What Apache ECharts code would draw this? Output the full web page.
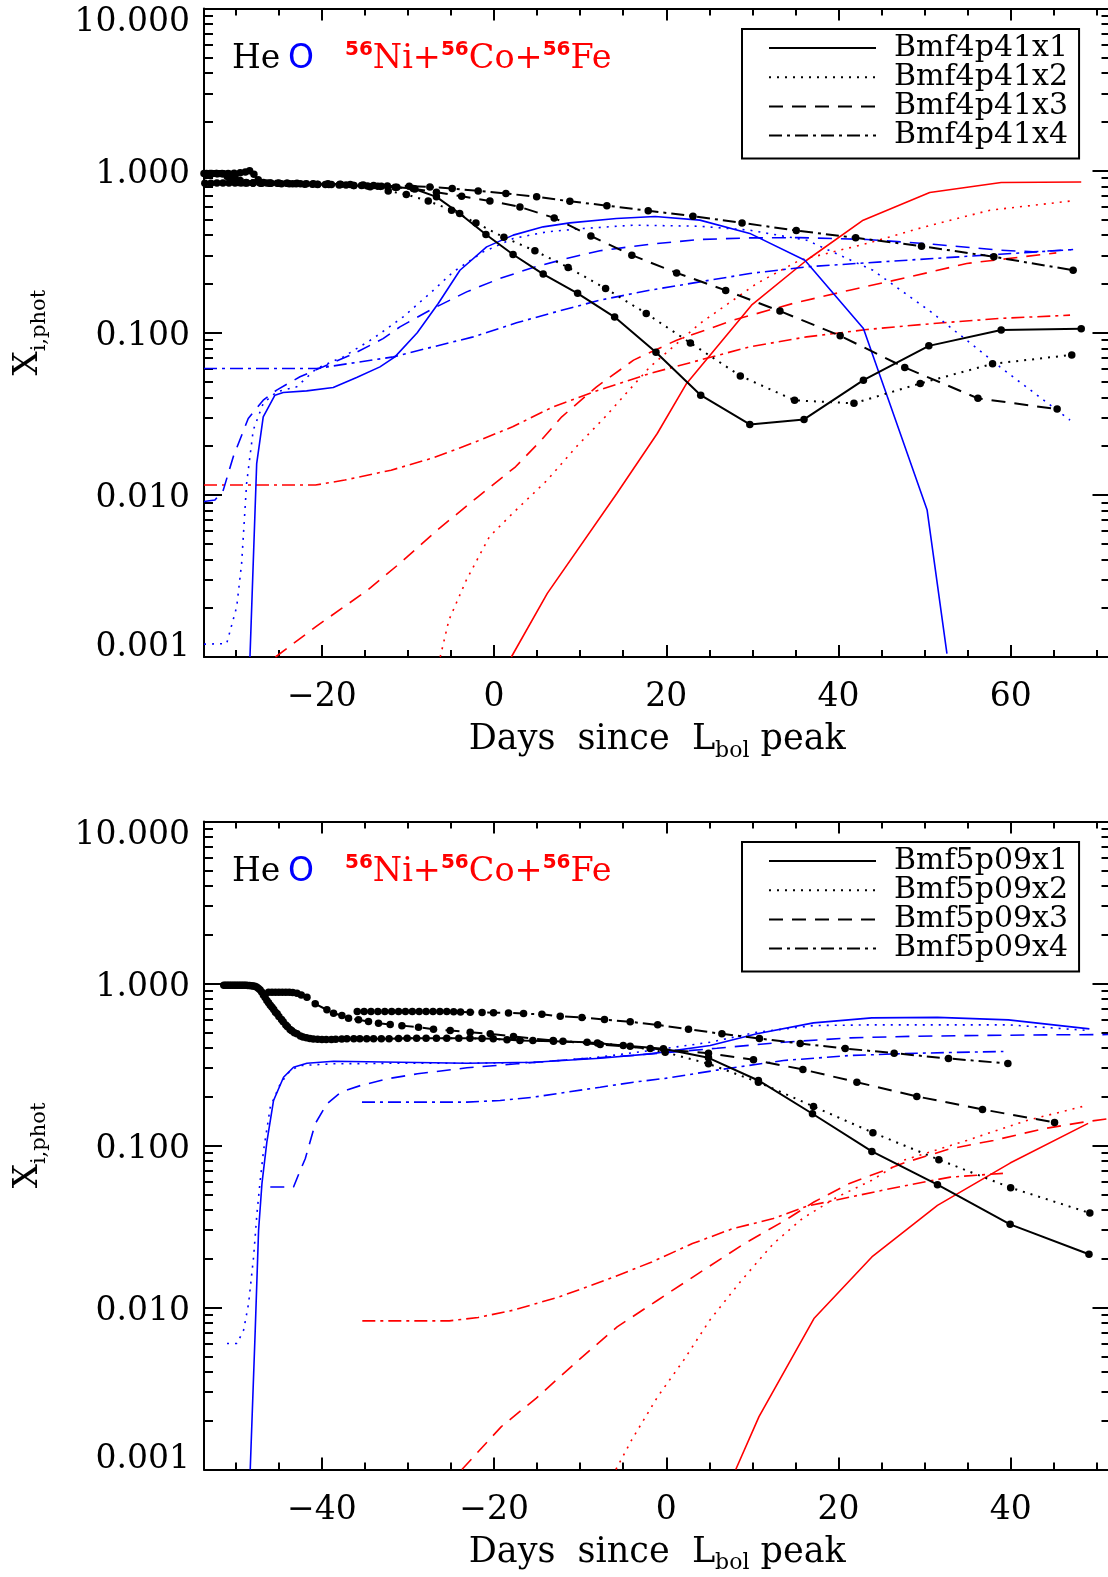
<!DOCTYPE html>
<html><head><meta charset="utf-8">
<script src="https://cdn.jsdelivr.net/npm/echarts@6/dist/echarts.min.js"></script>
<style>html,body{margin:0;padding:0;background:#fff}#c{width:1108px;height:1577px}</style>
</head><body><div id="c"></div>
<script>
// ---------------- DATA (day since Lbol peak, mass fraction) ----------------
const modelsTop = ['Bmf4p41x1','Bmf4p41x2','Bmf4p41x3','Bmf4p41x4'];
const modelsBottom = ['Bmf5p09x1','Bmf5p09x2','Bmf5p09x3','Bmf5p09x4'];
const xTicksTopMajor = [-20,0,20,40,60];
const xTicksTopMinor = [-30,-25,-15,-10,-5,5,10,15,25,30,35,45,50,55,65,70];
const xTicksBotMajor = [-40,-20,0,20,40];
const xTicksBotMinor = [-50,-45,-35,-30,-25,-15,-10,-5,5,10,15,25,30,35,45,50];
const xRangeTop = [-33.7, 71.6];
const xRangeBot = [-53.7, 51.6];

// Top panel: He (black)
const heT1 = [[-33.7,0.96],[-33.0,0.96],[-32.3,0.96],[-31.6,0.96],[-30.9,0.96],[-30.2,0.965],[-29.5,0.97],[-28.9,0.98],[-28.4,1.0],[-27.9,0.95],[-27.4,0.88],[-26.8,0.845],[-26.0,0.84],[-25.0,0.835],[-24.0,0.835],[-23.0,0.83],[-21.8,0.83],[-20.5,0.825],[-19.2,0.82],[-17.8,0.82],[-16.3,0.81],[-14.7,0.805],[-13.1,0.80],[-11.3,0.79],[-9.4,0.776],[-6.7,0.689],[-4.0,0.544],[-0.95,0.404],[2.2,0.304],[5.7,0.23],[9.7,0.175],[14.0,0.125],[18.8,0.0758],[24.0,0.0412],[29.7,0.0272],[36.0,0.0292],[42.9,0.051],[50.5,0.083],[58.9,0.104],[68.2,0.106]];
const heT2 = [[-33.5,0.955],[-32.8,0.955],[-32.1,0.955],[-31.4,0.955],[-30.7,0.95],[-30.1,0.92],[-29.5,0.87],[-28.8,0.845],[-28.0,0.84],[-27.1,0.84],[-26.1,0.835],[-25.0,0.835],[-23.8,0.83],[-22.5,0.83],[-21.1,0.825],[-19.6,0.82],[-18.0,0.815],[-16.3,0.81],[-14.4,0.795],[-12.3,0.75],[-10.2,0.712],[-7.65,0.65],[-4.94,0.57],[-2.11,0.476],[1.14,0.388],[4.74,0.32],[8.6,0.253],[12.95,0.1875],[17.67,0.1315],[22.8,0.0866],[28.6,0.0542],[34.9,0.0383],[41.8,0.0367],[49.5,0.0487],[57.9,0.0643],[67.1,0.073]];
const heT3 = [[-33.4,0.96],[-32.8,0.96],[-32.2,0.96],[-31.6,0.955],[-31.0,0.92],[-30.4,0.87],[-29.7,0.845],[-28.9,0.84],[-28.0,0.84],[-27.0,0.835],[-25.9,0.835],[-24.7,0.83],[-23.4,0.83],[-22.0,0.825],[-20.5,0.82],[-18.9,0.82],[-17.2,0.815],[-15.4,0.81],[-13.5,0.80],[-11.5,0.79],[-9.2,0.77],[-6.7,0.736],[-3.77,0.695],[-0.49,0.65],[3.0,0.597],[6.98,0.511],[11.24,0.395],[16.0,0.301],[21.2,0.234],[26.9,0.1825],[33.2,0.136],[40.2,0.0958],[47.7,0.0611],[56.2,0.0394],[65.4,0.0338]];
const heT4 = [[-33.6,0.835],[-32.9,0.835],[-32.2,0.84],[-31.5,0.84],[-30.8,0.84],[-30.1,0.84],[-29.4,0.84],[-28.7,0.84],[-28.0,0.84],[-27.2,0.84],[-26.4,0.84],[-25.2,0.835],[-24.1,0.835],[-22.9,0.835],[-21.0,0.83],[-19.3,0.83],[-17.9,0.825],[-16.7,0.82],[-15.2,0.815],[-14.0,0.81],[-12.4,0.805],[-9.86,0.802],[-7.46,0.793],[-4.87,0.776],[-1.85,0.75],[1.37,0.723],[4.94,0.689],[8.8,0.647],[13.1,0.608],[17.9,0.566],[23.1,0.524],[28.8,0.476],[35.1,0.427],[42.0,0.385],[49.65,0.342],[58.05,0.294],[67.26,0.243]];
// Top panel: O (blue)
const oT1 = [[-28.36,0.001],[-27.58,0.0156],[-26.82,0.0303],[-25.46,0.0412],[-24.5,0.0428],[-21.78,0.0438],[-18.69,0.046],[-15.97,0.053],[-13.26,0.0616],[-11.52,0.071],[-8.93,0.0999],[-6.49,0.1516],[-3.97,0.243],[-0.87,0.3386],[2.22,0.40],[5.7,0.45],[8.8,0.476],[14.2,0.507],[18.7,0.521],[23.9,0.495],[29.7,0.41],[36.1,0.28],[42.9,0.1063],[50.3,0.00806],[52.6,0.00105]];
const oT2 = [[-33.7,0.0012],[-31.07,0.00121],[-29.9,0.00204],[-29.33,0.00378],[-28.75,0.01178],[-27.98,0.0251],[-26.82,0.0367],[-25.26,0.0432],[-22.94,0.0464],[-20.62,0.0602],[-17.53,0.071],[-14.04,0.0922],[-10.56,0.1253],[-7.46,0.1747],[-4.75,0.2374],[-1.27,0.3153],[2.22,0.3815],[6.1,0.419],[10.35,0.4395],[16.15,0.4607],[23.9,0.454],[29.7,0.429],[36.3,0.3724],[44.0,0.243],[51.0,0.1315],[58.75,0.0616],[66.9,0.0289]];
const oT3 = [[-33.7,0.0091],[-32.43,0.0093],[-31.46,0.0107],[-30.3,0.0172],[-28.56,0.0296],[-26.82,0.0384],[-25.26,0.0443],[-22.55,0.0535],[-19.45,0.063],[-16.36,0.074],[-12.9,0.092],[-10.94,0.1087],[-7.07,0.1412],[-3.19,0.1787],[0.67,0.2162],[4.54,0.2527],[8.42,0.287],[12.29,0.3208],[18.1,0.3516],[23.9,0.376],[29.7,0.3846],[35.5,0.386],[43.3,0.376],[51.0,0.3516],[58.75,0.323],[62.6,0.3158],[67.26,0.326]];
const oT4 = [[-33.7,0.0602],[-27.0,0.0602],[-20.6,0.0602],[-16.75,0.0647],[-11.7,0.071],[-7.07,0.0819],[-2.43,0.0943],[2.61,0.1151],[6.48,0.1315],[12.29,0.1589],[18.1,0.183],[23.9,0.206],[29.7,0.232],[36.3,0.255],[43.3,0.27],[51.0,0.287],[58.75,0.305],[67.26,0.326]];
// Top panel: 56Ni+56Co+56Fe (red)
const niT1 = [[2.0,0.001],[6.18,0.00247],[14.25,0.0102],[18.95,0.0239],[22.36,0.0487],[29.9,0.148],[36.3,0.28],[42.87,0.4946],[50.6,0.733],[58.9,0.845],[68.2,0.85]];
const niT2 = [[-6.26,0.001],[-5.25,0.00169],[-3.23,0.00298],[-0.55,0.00552],[2.15,0.00769],[6.18,0.01234],[9.55,0.0198],[12.9,0.0303],[18.1,0.0616],[23.9,0.114],[27.77,0.159],[30.5,0.2013],[35.5,0.2803],[43.3,0.3553],[50.0,0.4498],[57.6,0.57],[67.07,0.65]];
const niT3 = [[-25.4,0.001],[-20.7,0.00154],[-14.67,0.00259],[-10.96,0.00378],[-6.6,0.00607],[-1.88,0.00973],[2.49,0.0149],[5.5,0.0218],[7.86,0.0303],[11.9,0.0464],[16.2,0.0678],[21.2,0.09],[27.8,0.1196],[34.7,0.1516],[41.3,0.183],[48.3,0.2212],[54.9,0.2675],[65.3,0.311]];
const niT4 = [[-33.7,0.0115],[-27.0,0.0115],[-20.75,0.0115],[-17.35,0.01234],[-11.97,0.0142],[-7.27,0.0168],[-2.57,0.0208],[2.15,0.0263],[6.85,0.0349],[11.56,0.0432],[18.1,0.0561],[23.9,0.0678],[29.7,0.0819],[36.3,0.0943],[43.3,0.1047],[51.0,0.114],[58.75,0.1225],[66.9,0.1284]];

// Bottom panel: He (black)
const heB1 = [[-51.4,0.975],[-51.0,0.975],[-50.6,0.975],[-50.2,0.975],[-49.8,0.975],[-49.4,0.975],[-49.0,0.975],[-48.6,0.973],[-48.2,0.97],[-47.8,0.96],[-47.4,0.935],[-47.0,0.885],[-46.6,0.82],[-46.2,0.76],[-45.8,0.713],[-45.4,0.665],[-45.0,0.625],[-44.5,0.58],[-44.0,0.54],[-43.5,0.51],[-42.9,0.489],[-42.2,0.468],[-41.4,0.458],[-40.5,0.453],[-39.5,0.451],[-38.4,0.452],[-37.1,0.4555],[-35.6,0.4555],[-34.0,0.4555],[-32.2,0.4555],[-30.1,0.46],[-27.9,0.46],[-25.5,0.46],[-22.8,0.46],[-20.1,0.4555],[-17.0,0.4446],[-13.1,0.44],[-9.2,0.434],[-5.0,0.414],[-0.33,0.395],[4.9,0.3477],[10.7,0.252],[16.98,0.157],[23.88,0.0919],[31.5,0.0573],[39.94,0.0326],[49.1,0.0213]];
const heB2 = [[-51.2,0.975],[-50.8,0.975],[-50.4,0.975],[-50.0,0.975],[-49.6,0.975],[-49.2,0.975],[-48.8,0.974],[-48.4,0.972],[-48.0,0.965],[-47.6,0.95],[-47.2,0.915],[-46.8,0.85],[-46.4,0.785],[-46.0,0.735],[-45.6,0.69],[-45.2,0.65],[-44.7,0.6],[-44.2,0.555],[-43.7,0.52],[-43.2,0.497],[-42.5,0.475],[-41.8,0.462],[-41.0,0.455],[-40.0,0.451],[-38.9,0.451],[-37.7,0.454],[-36.3,0.4555],[-34.8,0.4555],[-33.1,0.4555],[-31.1,0.458],[-29.0,0.46],[-26.7,0.46],[-24.1,0.46],[-21.4,0.457],[-18.5,0.45],[-15.5,0.444],[-12.0,0.44],[-8.0,0.43],[-4.2,0.41],[-0.13,0.3765],[4.9,0.3194],[10.7,0.246],[17.1,0.1742],[24.0,0.12],[31.66,0.0818],[40.0,0.0549],[49.2,0.0383]];
const heB3 = [[-46.2,0.882],[-45.8,0.882],[-45.4,0.882],[-45.0,0.882],[-44.6,0.882],[-44.2,0.882],[-43.8,0.882],[-43.4,0.88],[-42.9,0.87],[-42.4,0.85],[-41.74,0.822],[-40.78,0.7486],[-39.42,0.6877],[-38.65,0.655],[-37.68,0.634],[-36.91,0.61],[-35.75,0.5965],[-34.59,0.582],[-33.43,0.5684],[-32.07,0.558],[-30.71,0.5495],[-28.78,0.537],[-27.04,0.522],[-25.1,0.512],[-22.78,0.5003],[-20.45,0.4891],[-17.75,0.4706],[-13.14,0.4446],[-7.68,0.42],[-1.87,0.397],[4.9,0.3713],[10.13,0.338],[15.87,0.2946],[22.14,0.246],[29.1,0.2008],[36.73,0.167],[45.1,0.1388]];
const heB4 = [[-35.9,0.671],[-35.1,0.671],[-34.3,0.671],[-33.5,0.671],[-32.7,0.671],[-31.9,0.671],[-31.1,0.671],[-30.3,0.671],[-29.5,0.671],[-28.7,0.671],[-27.9,0.671],[-27.1,0.671],[-26.3,0.671],[-25.5,0.671],[-24.7,0.67],[-23.9,0.668],[-22.78,0.6645],[-21.4,0.6625],[-20.07,0.6605],[-18.33,0.6585],[-16.58,0.652],[-14.45,0.645],[-12.32,0.628],[-9.8,0.6163],[-7.18,0.599],[-4.19,0.58],[-1.0,0.5556],[2.58,0.522],[6.46,0.4891],[10.82,0.4575],[15.55,0.426],[20.78,0.397],[26.47,0.3713],[32.78,0.3443],[39.68,0.3208]];
// Bottom panel: O (blue)
const oB1 = [[-48.33,0.001],[-47.75,0.00724],[-47.36,0.03],[-46.97,0.0581],[-46.4,0.105],[-45.62,0.1897],[-44.46,0.264],[-43.3,0.3043],[-41.74,0.322],[-38.65,0.3314],[-30.9,0.3268],[-23.16,0.322],[-15.42,0.3268],[-7.68,0.3458],[-1.87,0.368],[5.1,0.414],[10.52,0.4891],[17.1,0.5715],[23.88,0.6136],[31.5,0.618],[39.74,0.5965],[49.15,0.5248]];
const oB2 = [[-51.03,0.006],[-49.87,0.006],[-49.1,0.00724],[-48.52,0.01058],[-47.94,0.0205],[-47.55,0.038],[-47.17,0.061],[-46.78,0.0933],[-46.0,0.1725],[-44.84,0.2405],[-43.68,0.2904],[-42.52,0.3117],[-38.65,0.3194],[-30.9,0.322],[-23.16,0.322],[-15.42,0.325],[-7.68,0.3515],[-1.87,0.3857],[5.1,0.434],[10.52,0.5003],[17.1,0.55],[23.88,0.5556],[31.5,0.5556],[39.74,0.5556],[49.15,0.5124]];
const oB3 = [[-46.0,0.0554],[-44.7,0.0554],[-43.3,0.0554],[-42.52,0.0702],[-41.94,0.0829],[-40.78,0.1363],[-39.42,0.181],[-37.8,0.2134],[-35.5,0.2347],[-32.4,0.258],[-28.9,0.2772],[-23.16,0.3017],[-17.35,0.3194],[-11.54,0.338],[-3.81,0.36],[5.88,0.3985],[13.61,0.434],[21.36,0.462],[29.1,0.4727],[36.84,0.478],[44.59,0.482],[51.32,0.484]];
const oB4 = [[-35.35,0.1852],[-29.0,0.1852],[-23.16,0.1852],[-19.3,0.1897],[-15.42,0.1988],[-11.54,0.2134],[-7.68,0.229],[-3.81,0.246],[0.07,0.2604],[5.88,0.292],[13.61,0.3347],[21.36,0.3594],[29.1,0.3713],[39.16,0.3804]];
// Bottom panel: 56Ni+56Co+56Fe (red)
const niB1 = [[8.07,0.001],[10.77,0.00212],[17.15,0.00855],[23.88,0.0205],[31.5,0.0427],[39.94,0.0779],[49.0,0.137]];
const niB2 = [[-5.85,0.001],[-4.03,0.00152],[-1.01,0.00281],[2.02,0.00473],[5.05,0.00835],[8.75,0.01474],[12.44,0.0248],[15.8,0.0354],[19.85,0.0481],[23.88,0.061],[27.55,0.081],[34.9,0.1075],[41.9,0.1428],[48.85,0.1767]];
const niB3 = [[-23.74,0.001],[-19.16,0.00184],[-15.13,0.00275],[-10.42,0.00462],[-5.71,0.00759],[-1.01,0.01109],[3.7,0.0162],[9.08,0.0248],[13.79,0.0345],[17.15,0.0448],[21.2,0.0581],[27.9,0.079],[33.0,0.0955],[38.0,0.1075],[43.8,0.1269],[48.45,0.1394],[51.3,0.1463]];
const niB4 = [[-35.31,0.00827],[-30.0,0.00827],[-25.2,0.00827],[-21.85,0.00868],[-17.8,0.00962],[-12.44,0.01163],[-7.06,0.01474],[-1.68,0.0191],[3.03,0.0248],[7.74,0.0307],[12.44,0.0354],[16.4,0.0423],[21.3,0.048],[27.0,0.0555],[33.0,0.0638],[39.56,0.0676]];

// ---------------- STYLE ----------------
const FONT = 'DejaVu Serif';
const BLACK = '#000000', BLUE = '#0000ff', RED = '#ff0000';
const LTYPES = ['solid', [2, 6], [14, 9], [13, 5, 3, 5]];
const yMinor = [];
for (let d = -3; d < 1; d++) for (let k = 2; k <= 9; k++) yMinor.push(d + Math.log10(k));

function fmtX(v) { return v < 0 ? '\u2212' + Math.abs(v) : String(v); }
function fmtY(v) {
  const s = v.toFixed(3);
  if (v > 5) return '{t|' + s + '}';
  if (v < 0.002) return '{b|' + s + '}';
  return '{m|' + s + '}';
}
const lblBase = { fontFamily: FONT, fontSize: 33, color: BLACK };
const yLabelRich = {
  t: Object.assign({ padding: [28, 0, 0, 0] }, lblBase),
  b: Object.assign({ padding: [0, 0, 20, 0] }, lblBase),
  m: Object.assign({ padding: [7, 0, 0, 0] }, lblBase)
};
const lineBlack = { color: BLACK, width: 2 };

function xAxesFor(g, range, majors, minors) {
  const base = { gridIndex: g, type: 'value', min: range[0], max: range[1], splitLine: { show: false }, nameMoveOverlap: false };
  const tick = (vals, len) => ({ show: true, inside: true, length: len, customValues: vals, lineStyle: { color: BLACK, width: 2 } });
  const noLine = { show: false, onZero: false };
  return [
    Object.assign({}, base, {
      position: 'bottom',
      axisLine: { show: true, onZero: false, lineStyle: lineBlack },
      axisTick: tick(majors, 12),
      axisLabel: { show: true, customValues: majors, margin: 24, formatter: fmtX, fontFamily: FONT, fontSize: 33, color: BLACK },
      name: '{t|Days  since  L}{s|bol}{t| peak}', nameLocation: 'middle', nameGap: 61,
      nameTextStyle: { rich: {
        t: { fontFamily: FONT, fontSize: 35, lineHeight: 44, color: BLACK },
        s: { fontFamily: FONT, fontSize: 22, lineHeight: 20, verticalAlign: 'bottom', color: BLACK }
      } }
    }),
    Object.assign({}, base, { position: 'bottom', axisLine: noLine, axisTick: tick(minors, 7), axisLabel: { show: false } }),
    Object.assign({}, base, { position: 'top', axisLine: { show: true, onZero: false, lineStyle: lineBlack }, axisTick: tick(majors, 12), axisLabel: { show: false } }),
    Object.assign({}, base, { position: 'top', axisLine: noLine, axisTick: tick(minors, 7), axisLabel: { show: false } })
  ];
}
function yAxesFor(g) {
  const logBase = { gridIndex: g, type: 'log', logBase: 10, min: 0.001, max: 10, splitLine: { show: false }, minorTick: { show: false }, nameMoveOverlap: false };
  const minorBase = { gridIndex: g, type: 'value', min: -3, max: 1, splitLine: { show: false }, axisLine: { show: false, onZero: false }, axisLabel: { show: false },
    axisTick: { show: true, inside: true, length: 9, customValues: yMinor, lineStyle: { color: BLACK, width: 2 } } };
  const majTick = { show: true, inside: true, length: 18, lineStyle: { color: BLACK, width: 2 } };
  return [
    Object.assign({}, logBase, {
      position: 'left',
      axisLine: { show: true, onZero: false, lineStyle: lineBlack },
      axisTick: majTick,
      axisLabel: { show: true, margin: 14, formatter: fmtY, rich: yLabelRich, fontFamily: FONT, fontSize: 33, color: BLACK },
      name: '{x|X}{s|i,phot}', nameLocation: 'middle', nameGap: 154, nameRotate: 90,
      nameTextStyle: { rich: {
        x: { fontFamily: FONT, fontSize: 34, lineHeight: 44, color: BLACK },
        s: { fontFamily: FONT, fontSize: 21, lineHeight: 20, verticalAlign: 'bottom', color: BLACK }
      } }
    }),
    Object.assign({}, logBase, { position: 'right', axisLine: { show: true, onZero: false, lineStyle: lineBlack }, axisTick: majTick, axisLabel: { show: false } }),
    Object.assign({}, minorBase, { position: 'left' }),
    Object.assign({}, minorBase, { position: 'right' })
  ];
}

function mk(data, g, color, k, marker) {
  return {
    type: 'line', xAxisIndex: g * 4, yAxisIndex: g * 4, data: data,
    symbol: marker ? 'circle' : 'none', symbolSize: 7.5, showSymbol: !!marker,
    lineStyle: { color: color, width: marker ? 2 : 1.6, type: LTYPES[k] },
    itemStyle: { color: color }, silent: true, z: marker ? 5 : 3, clip: true
  };
}
function legendSeries(names, g) {
  return names.map((n, k) => ({
    type: 'line', name: n, xAxisIndex: g * 4, yAxisIndex: g * 4, data: [],
    symbol: 'none', lineStyle: { color: BLACK, width: 2, type: LTYPES[k] }, itemStyle: { color: BLACK }
  }));
}
function legendFor(names, top) {
  return {
    data: names.map((n, k) => ({ name: n, lineStyle: { color: BLACK, width: 2, type: LTYPES[k] } })),
    orient: 'vertical', left: 742, top: top, itemWidth: 107, itemHeight: 14, itemGap: -0.8,
    padding: [4, 11, 8, 26], borderColor: BLACK, borderWidth: 2, borderRadius: 0, selectedMode: false,
    itemStyle: { color: 'rgba(0,0,0,0)', borderColor: 'rgba(0,0,0,0)', borderWidth: 0, opacity: 0 },
    textStyle: { fontFamily: FONT, fontSize: 30, color: BLACK, padding: [0, 0, 0, 13] }
  };
}
function annot(yOff) {
  const yc = 59.3 + yOff;
  return [
    { type: 'text', x: 232, y: yc, silent: true, style: { text: 'He', fontFamily: FONT, fontSize: 33, fill: BLACK, align: 'left', verticalAlign: 'middle', textAlign: 'left', textVerticalAlign: 'middle' } },
    { type: 'text', x: 288, y: yc, silent: true, style: { text: 'O', fontFamily: 'DejaVu Sans', fontSize: 33, fill: BLUE, align: 'left', verticalAlign: 'middle', textAlign: 'left', textVerticalAlign: 'middle' } },
    { type: 'text', x: 345, y: yc, silent: true, style: {
      text: '{s|56}{r|Ni+}{s|56}{r|Co+}{s|56}{r|Fe}', align: 'left', verticalAlign: 'middle', textAlign: 'left', textVerticalAlign: 'middle',
      rich: {
        s: { fontFamily: 'DejaVu Sans', fontWeight: 'bold', fontSize: 20, lineHeight: 16, verticalAlign: 'top', fill: RED, color: RED },
        r: { fontFamily: FONT, fontSize: 33.5, lineHeight: 40, fill: RED, color: RED }
      } } }
  ];
}

const series = [];
[[niT1,niT2,niT3,niT4],[niB1,niB2,niB3,niB4]].forEach((arr, g) => arr.forEach((d, k) => series.push(mk(d, g, RED, k, false))));
[[oT1,oT2,oT3,oT4],[oB1,oB2,oB3,oB4]].forEach((arr, g) => arr.forEach((d, k) => series.push(mk(d, g, BLUE, k, false))));
[[heT1,heT2,heT3,heT4],[heB1,heB2,heB3,heB4]].forEach((arr, g) => arr.forEach((d, k) => series.push(mk(d, g, BLACK, k, true))));
series.push(...legendSeries(modelsTop, 0), ...legendSeries(modelsBottom, 1));

const chart = echarts.init(document.getElementById('c'), null, { renderer: 'canvas' });
chart.setOption({
  animation: false,
  backgroundColor: '#ffffff',
  textStyle: { fontFamily: FONT },
  grid: [
    { left: 204, right: -2.5, top: 8.5, bottom: 920, outerBoundsMode: 'none', containLabel: false },
    { left: 204, right: -2.5, top: 821.5, bottom: 107.5, outerBoundsMode: 'none', containLabel: false }
  ],
  xAxis: [...xAxesFor(0, xRangeTop, xTicksTopMajor, xTicksTopMinor), ...xAxesFor(1, xRangeBot, xTicksBotMajor, xTicksBotMinor)],
  yAxis: [...yAxesFor(0), ...yAxesFor(1)],
  legend: [legendFor(modelsTop, 29), legendFor(modelsBottom, 842)],
  graphic: [...annot(0), ...annot(813.2)],
  series: series
});
</script></body></html>
